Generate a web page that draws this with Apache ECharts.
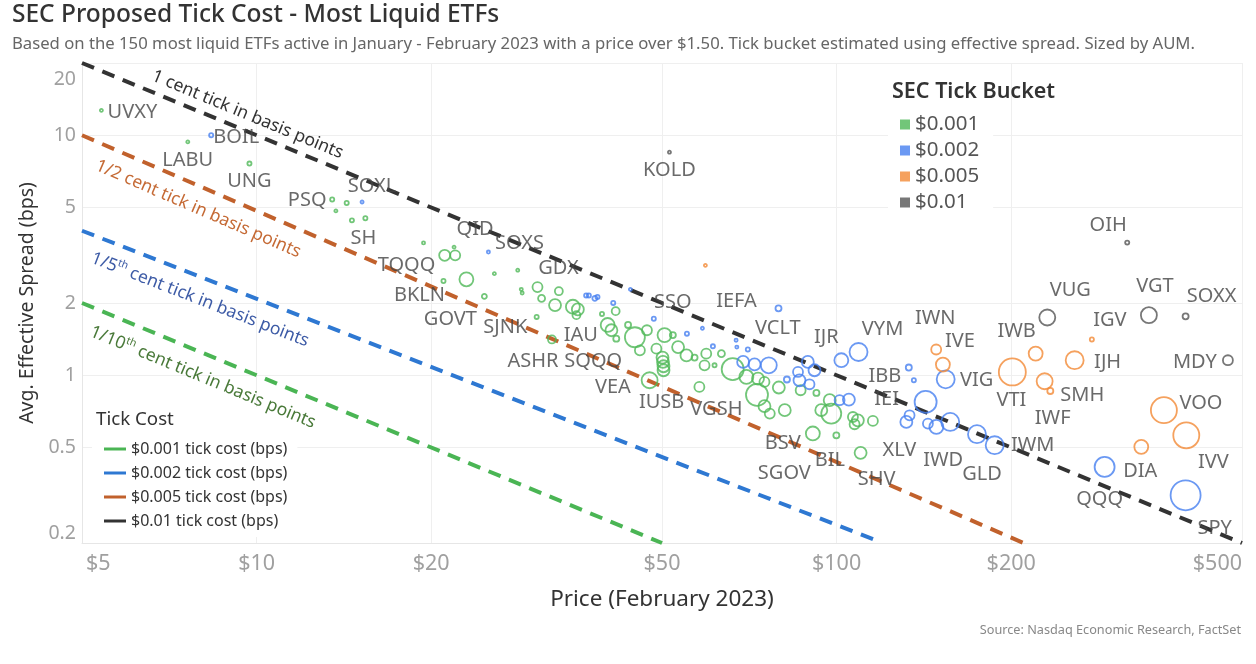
<!DOCTYPE html>
<html><head><meta charset="utf-8">
<script src="https://cdn.jsdelivr.net/npm/echarts@6/dist/echarts.min.js"></script>
<style>html,body{margin:0;padding:0;background:#fff}#c{width:1256px;height:664px}</style>
</head><body><div id="c"></div>
<script>
// ---------- DATA ----------
const priceTicks = [5, 10, 20, 50, 100, 200, 500];
const spreadTicks = [0.2, 0.5, 1, 2, 5, 10, 20];
const bucketNames = ['$0.001', '$0.002', '$0.005', '$0.01'];
// [price $, avg effective spread bps, AUM $B, ticker]
const etfs001 = [
  [5.40,12.7,2,'UVXY'],[7.61,9.38,2,'LABU'],[9.72,7.62,7,'UNG'],[13.5,5.40,7,'PSQ'],[14.3,5.22,7,''],
  [13.7,4.84,2,''],[14.6,4.42,7,''],[15.4,4.51,7,'SH'],[19.4,3.56,4,'TQQQ'],[21.1,3.16,50,''],
  [22.0,3.16,41,''],[21.9,3.42,2,'QID'],[25.7,2.65,2,''],[28.2,2.74,2,''],[21.0,2.47,7,'BKLN'],
  [23.0,2.51,80,'GOVT'],[24.7,2.13,10,'SJNK'],[28.6,2.28,4,''],[28.7,2.20,4,''],[30.5,2.33,41,'GDX'],
  [31.0,2.09,20,''],[33.2,2.24,26,''],[32.7,1.96,59,''],[35.1,1.93,80,'IAU'],[35.8,1.88,59,''],
  [35.6,1.78,26,''],[39.4,1.80,7,''],[41.6,1.85,26,''],[30.4,1.75,7,''],[32.3,1.41,26,'ASHR'],
  [40.3,1.62,80,''],[40.9,1.54,59,''],[41.7,1.42,15,'SQQQ'],[43.7,1.62,15,''],[44.9,1.44,164,''],
  [47.1,1.54,41,''],[45.8,1.27,41,'VEA'],[48.9,1.29,41,''],[50.5,1.47,80,''],[52.2,1.47,15,''],
  [53.3,1.31,59,''],[55.1,1.21,59,''],[56.9,1.185,15,''],[50.1,1.185,59,''],[50.2,1.136,59,''],
  [50.3,1.09,59,''],[50.3,1.049,59,''],[47.6,0.953,105,'IUSB'],[58.0,0.894,41,'VGSH'],[59.2,1.10,41,''],
  [61.6,1.10,7,''],[63.3,1.23,20,''],[59.6,1.23,41,''],[66.2,1.06,199,''],[69.9,0.984,80,''],
  [73.2,0.969,59,''],[75.1,0.938,41,''],[79.5,0.889,59,''],[72.9,0.829,199,''],[75.1,0.743,59,''],
  [76.7,0.692,41,'BSV'],[81.4,0.715,59,''],[86.7,0.866,41,''],[92.3,0.844,15,''],[94.1,0.715,59,''],
  [97.9,0.692,164,''],[97.3,0.787,59,''],[106.7,0.670,41,''],[108.8,0.649,59,''],[107.4,0.625,41,''],
  [115.5,0.645,41,''],[91.0,0.572,80,'BIL'],[99.9,0.562,15,'SGOV'],[110.0,0.475,59,'SHV']
];
const etfs002 = [
  [8.35,10.0,7,'BOIL'],[15.2,5.27,2,'SOXL'],[25.1,3.26,4,'SOXS'],[37.0,2.15,7,''],[37.4,2.15,7,''],
  [38.3,2.09,10,''],[38.7,2.12,7,''],[41.2,2.00,7,''],[44.1,2.28,2,''],[48.4,1.72,7,'SSO'],
  [55.2,1.49,7,''],[58.7,1.57,2,''],[61.2,1.32,7,''],[67.1,1.40,4,''],[67.3,1.31,4,''],
  [70.3,1.28,7,''],[79.4,1.90,15,'IEFA'],[69.0,1.136,59,''],[72.2,1.11,59,''],[76.4,1.10,105,'VCLT'],
  [82.1,0.96,15,''],[89.2,1.136,59,''],[85.8,1.032,41,''],[91.6,1.049,59,''],[86.3,0.953,59,''],
  [89.8,0.917,41,''],[101.9,1.155,80,'IJR'],[109.1,1.25,133,'VYM'],[101.2,0.787,41,''],[105.0,0.792,59,''],
  [133.2,1.077,15,'IBB'],[135.9,0.953,7,''],[142.4,0.774,199,'IEI'],[131.9,0.639,59,'XLV'],[133.6,0.681,41,''],
  [143.7,0.629,41,''],[148.6,0.609,80,''],[157.0,0.639,133,'IWD'],[154.2,0.962,133,'VIG'],[174.6,0.568,133,'GLD'],
  [187.3,0.511,133,'IWM'],[289.8,0.415,164,'QQQ'],[399.7,0.316,370,'SPY']
];
const etfs005 = [
  [59.4,2.87,3,''],[148.5,1.28,41,'IWN'],[152.5,1.108,80,'IVE'],[200.9,1.032,300,'VTI'],[220.4,1.231,80,'IWB'],
  [228.4,0.944,105,'IWF'],[233.6,0.86,15,'SMH'],[257.3,1.155,133,'IJH'],[275.5,1.409,7,'IGV'],[335.2,0.503,80,'DIA'],
  [366.7,0.715,278,'VOO'],[400.8,0.562,278,'IVV']
];
const etfs01 = [
  [51.5,8.5,2,'KOLD'],[317,3.57,7,'OIH'],[230.8,1.74,105,'VUG'],[345.5,1.78,105,'VGT'],[399.7,1.76,15,'SOXX'],
  [472.8,1.155,41,'MDY']
];
const tickCostNames = ['$0.001 tick cost (bps)', '$0.002 tick cost (bps)', '$0.005 tick cost (bps)', '$0.01 tick cost (bps)'];
const tickLine001 = [[5, 2], [50, 0.2]];
const tickLine002 = [[5, 4], [117, 0.205]];
const tickLine005 = [[5, 10], [210, 0.2]];
const tickLine01 = [[5, 20], [500, 0.2]];
const tickLineTexts = [
  '{a|1/10}{s|th}{a| cent tick in basis points}',
  '{a|1/5}{s|th}{a| cent tick in basis points}',
  '{a|1/2 cent tick in basis points}',
  '{a|1 cent tick in basis points}'
];

// ---------- STYLE ----------
const FONT = "'Noto Sans', 'Open Sans', sans-serif";
const bucketColors = ['#4fb858', '#4680f0', '#f28a36', '#555555'];
const lineColors = ['#4ab554', '#2e78d2', '#c1612c', '#333333'];
const lineLabelColors = ['#4a7a3a', '#3d5ba6', '#c56a35', '#333333'];
const lineLabelPlace = [
  {pos: 'insideStartBottom', dist: [19, 12]},
  {pos: 'insideStartBottom', dist: [19, 11]},
  {pos: 'insideStartBottom', dist: [25, 11]},
  {pos: 'insideStartTop', dist: [70, 5]}
];
// label centre offset from its bubble, px
const labelOffset = {
  UVXY:[31,2], BOIL:[25,2], LABU:[0,18], UNG:[0,18], PSQ:[-25,1], SOXL:[10,-16], SH:[-2,20],
  TQQQ:[-17,22], BKLN:[-24,14], GOVT:[-16,40], SJNK:[21,31], QID:[21,-18], SOXS:[31,-9], GDX:[21,-19],
  SSO:[19,-16], IAU:[8,29], ASHR:[-19,22], SQQQ:[-23,23], VEA:[-27,37], IUSB:[12,22], VGSH:[17,22],
  IEFA:[-42,-7], VCLT:[9,-37], IJR:[-15,-23], VYM:[24,-23], IBB:[-24,9], IEI:[-39,-3], XLV:[-7,28],
  BSV:[13,30], BIL:[17,27], SGOV:[-52,38], SHV:[16,26], IWN:[-1,-31], IVE:[17,-23], VIG:[31,1],
  IWD:[-7,38], GLD:[5,40], IWM:[38,0], VTI:[-1,28], IWB:[-19,-22], IWF:[8,37], SMH:[32,4],
  VUG:[23,-27], IGV:[18,-19], IJH:[33,2], OIH:[-19,-17], VGT:[6,-29], SOXX:[26,-20], MDY:[-33,2],
  QQQ:[-5,32], DIA:[-1,24], VOO:[37,-7], IVV:[27,27], SPY:[29,33], KOLD:[0,18]
};
const axisLabelColor = '#a0a0a0';

function scatterSeries(name, rows, color) {
  return {
    type: 'scatter', name: name, z: 3,
    symbol: 'circle',
    symbolSize: v => Math.max(3, 30 * Math.sqrt(v[2] / 370)),
    itemStyle: {color: 'rgba(255,255,255,0)', borderColor: color, borderWidth: 1.8},
    label: {show: false},
    emphasis: {disabled: true},
    data: rows.map(r => {
      const item = {name: r[3], value: [r[0], r[1], r[2]]};
      if (r[3] && labelOffset[r[3]]) {
        item.label = {show: true, position: 'inside', offset: labelOffset[r[3]], formatter: '{b}',
          color: '#454545', fontSize: 20, fontFamily: FONT};
      }
      return item;
    })
  };
}

function tickSeries(i, pts) {
  const c = lineLabelColors[i];
  return {
    type: 'line', name: tickCostNames[i], data: pts, z: 2, silent: true,
    symbol: 'none', showSymbol: false,
    lineStyle: {color: lineColors[i], width: 4, type: [13, 9], cap: 'butt'},
    itemStyle: {color: lineColors[i]},
    emphasis: {disabled: true},
    markLine: {
      silent: true, symbol: ['none', 'none'], animation: false,
      lineStyle: {color: 'rgba(0,0,0,0)', width: 1, type: 'solid'},
      label: {
        show: true, position: lineLabelPlace[i].pos, distance: lineLabelPlace[i].dist,
        formatter: tickLineTexts[i], color: c,
        rich: {
          a: {fontSize: 17.5, color: c, fontFamily: FONT, lineHeight: 21},
          s: {fontSize: 10.5, color: c, fontFamily: FONT, lineHeight: 21, verticalAlign: 'top'}
        }
      },
      data: [[{coord: pts[0]}, {coord: pts[1]}]]
    }
  };
}

const chart = echarts.init(document.getElementById('c'), null, {renderer: 'canvas'});
chart.setOption({
  animation: false,
  backgroundColor: '#ffffff',
  textStyle: {fontFamily: FONT},
  title: [
    {text: 'SEC Proposed Tick Cost - Most Liquid ETFs', left: 12, top: 3, padding: 0,
      textStyle: {fontSize: 24.5, fontWeight: 500, color: '#333', fontFamily: FONT}},
    {text: 'Based on the 150 most liquid ETFs active in January - February 2023 with a price over $1.50. Tick bucket estimated using effective spread. Sized by AUM.',
      left: 12, top: 36, padding: 0, textStyle: {fontSize: 16.7, fontWeight: 'normal', color: '#666', fontFamily: FONT}},
    {text: 'SEC Tick Bucket', left: 892, top: 81, padding: 0, z: 10,
      textStyle: {fontSize: 21.5, fontWeight: 600, color: '#333', fontFamily: FONT}},
    {text: 'Tick Cost', left: 96, top: 410, padding: 0, z: 10,
      textStyle: {fontSize: 18.7, fontWeight: 'normal', color: '#333', fontFamily: FONT}},
    {text: 'Source: Nasdaq Economic Research, FactSet', right: 15, top: 624, padding: 0,
      textStyle: {fontSize: 12.7, fontWeight: 'normal', color: '#888', fontFamily: FONT}}
  ],
  legend: [
    {
      data: bucketNames.map((n, i) => ({name: n, icon: 'rect', itemStyle: {color: bucketColors[i], borderWidth: 0}})),
      orient: 'vertical', left: 888, top: 76, itemWidth: 10, itemHeight: 10, itemGap: 5,
      padding: [38, 14, 8, 12], backgroundColor: '#fff', selectedMode: false,
      textStyle: {fontSize: 20.5, color: '#555', fontFamily: FONT, lineHeight: 21}
    },
    {
      data: tickCostNames.map((n, i) => ({name: n, icon: 'rect', itemStyle: {color: lineColors[i], borderWidth: 0}})),
      orient: 'vertical', left: 92, top: 407, itemWidth: 22, itemHeight: 3, itemGap: 8,
      padding: [34, 10, 8, 12], backgroundColor: '#fff', selectedMode: false,
      textStyle: {fontSize: 16, color: '#333', fontFamily: FONT, lineHeight: 16}
    }
  ],
  grid: {left: 82, right: 14, top: 63, bottom: 121, containLabel: false},
  xAxis: {
    type: 'log', logBase: 10, min: 5, max: 500,
    name: 'Price (February 2023)', nameLocation: 'middle', nameGap: 45,
    nameTextStyle: {fontSize: 22.5, color: '#333', fontFamily: FONT},
    axisLine: {show: true, lineStyle: {color: '#e6e6e6'}},
    axisTick: {show: false, customValues: priceTicks},
    axisLabel: {customValues: priceTicks,
      formatter: v => v === priceTicks[0] ? '{p|$' + v + '}' : '$' + v,
      rich: {p: {fontSize: 21.5, color: axisLabelColor, fontFamily: FONT, padding: [0, 0, 0, 4]}},
      fontSize: 21.5, color: axisLabelColor,
      fontFamily: FONT, margin: 10, showMinLabel: true, showMaxLabel: true,
      alignMinLabel: 'left', alignMaxLabel: 'right'},
    splitLine: {show: true, lineStyle: {color: '#efefef', width: 1}},
    minorTick: {show: false}, minorSplitLine: {show: false}
  },
  yAxis: {
    type: 'log', logBase: 10, min: 0.2, max: 20,
    name: 'Avg. Effective Spread (bps)', nameLocation: 'middle', nameGap: 40, nameRotate: 90,
    nameTextStyle: {fontSize: 19.5, color: '#333', fontFamily: FONT},
    axisLine: {show: true, lineStyle: {color: '#e6e6e6'}},
    axisTick: {show: false, customValues: spreadTicks},
    axisLabel: {customValues: spreadTicks,
      formatter: v => v === spreadTicks[spreadTicks.length - 1] ? '{t|' + v + '}' : String(v),
      rich: {t: {fontSize: 19.5, color: axisLabelColor, fontFamily: FONT, padding: [6, 0, 0, 0]}},
      fontSize: 19.5, color: axisLabelColor, fontFamily: FONT, margin: 6,
      showMinLabel: true, showMaxLabel: true,
      verticalAlignMinLabel: 'bottom', verticalAlignMaxLabel: 'top'},
    splitLine: {show: true, lineStyle: {color: '#efefef', width: 1}},
    minorTick: {show: false}, minorSplitLine: {show: false}
  },
  series: [
    tickSeries(0, tickLine001),
    tickSeries(1, tickLine002),
    tickSeries(2, tickLine005),
    tickSeries(3, tickLine01),
    scatterSeries(bucketNames[0], etfs001, bucketColors[0]),
    scatterSeries(bucketNames[1], etfs002, bucketColors[1]),
    scatterSeries(bucketNames[2], etfs005, bucketColors[2]),
    scatterSeries(bucketNames[3], etfs01, bucketColors[3])
  ]
});
</script>
</body></html>
